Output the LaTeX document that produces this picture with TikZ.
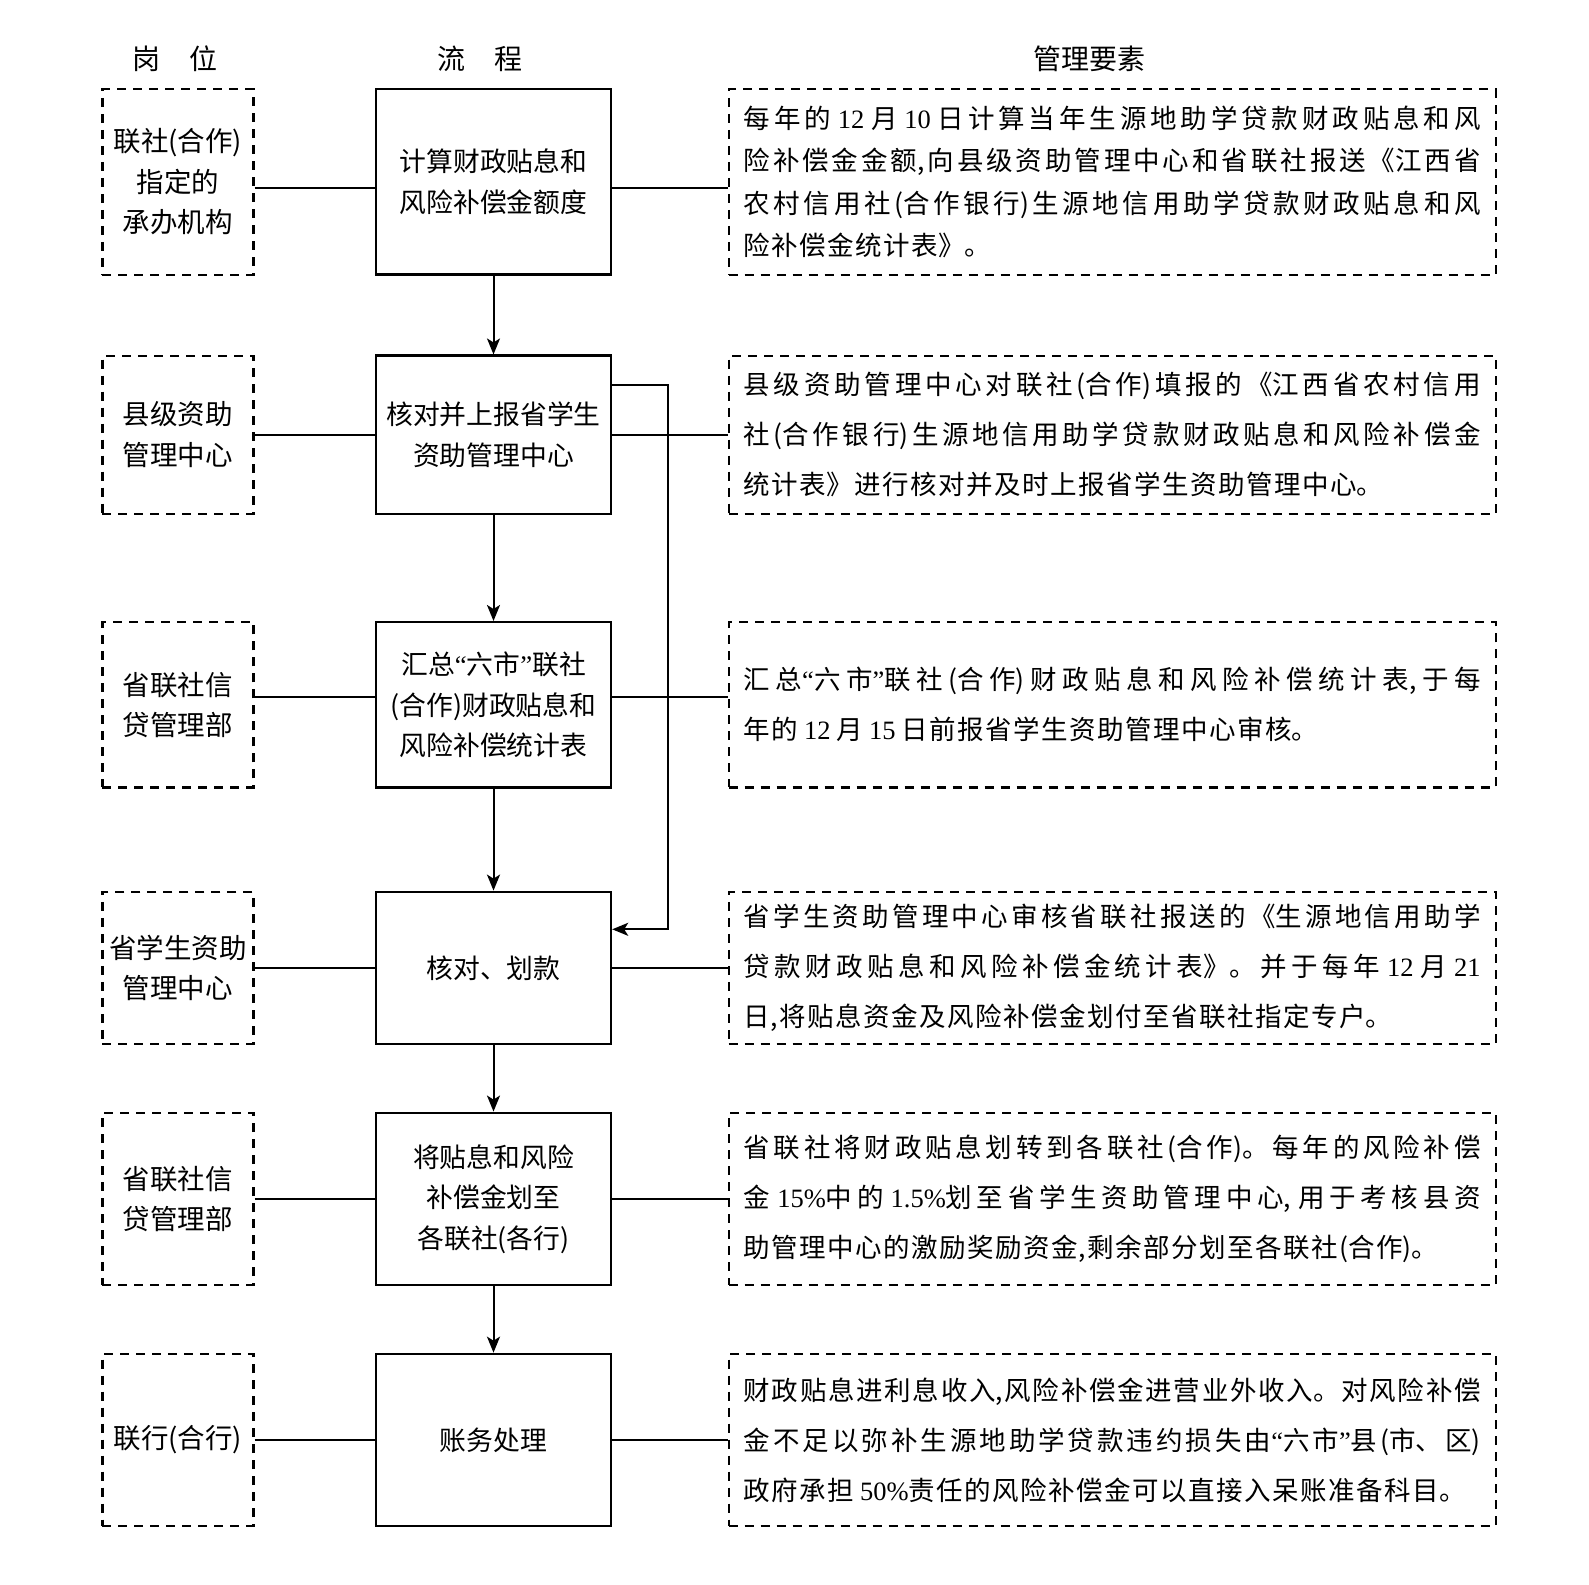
\documentclass[tikz,border=0pt]{standalone}
\usepackage{fontspec}
\setmainfont{Noto Sans CJK SC}
\newfontfamily\xifont{Liberation Serif}
\usetikzlibrary{arrows.meta}
\XeTeXlinebreaklocale "zh"
\XeTeXlinebreakskip=0pt plus 8pt
\setlength{\parindent}{0pt}
\newcommand{\yinhao}[1]{{\xifont “}#1{\xifont ”}}
\newcommand{\shu}[1]{{\xifont #1}}
\newcommand{\zijian}{\XeTeXlinebreakskip 1.5pt plus 8pt\relax}
\tikzset{
  kuang/.style={draw,line width=2.4pt,minimum width=235pt,inner sep=0pt,align=center,
    font=\fontsize{26.8pt}{40.5pt}\selectfont},
  xukuang/.style={draw,line width=2.2pt,dash pattern=on 9pt off 7pt,inner sep=0pt},
  gw/.style={xukuang,minimum width=151pt,align=center,font=\fontsize{27.5pt}{40.5pt}\selectfont},
  ys/.style={xukuang,text width=737pt,inner xsep=15pt,align=justify,
    font=\fontsize{26.5pt}{50pt}\selectfont\zijian},
  xian/.style={line width=2pt},
  jt/.style={line width=2pt,-{Stealth[length=16pt,width=13pt,inset=4pt]}},
  biaoti/.style={font=\fontsize{28pt}{30pt}\selectfont},
}

\begin{document}
\begin{tikzpicture}[x=1pt,y=-1pt]
  \useasboundingbox (0,0) rectangle (1589,1584);
  % titles
  \node[biaoti] (t1) at (175.3,58.8) {岗\hspace{29pt}位};
  \node[biaoti] (t2) at (480,58.8) {流\hspace{30pt}程};
  \node[biaoti] (t3) at (1089.4,58.8) {管理要素};
  % posts
  \node[gw,minimum height=185.4pt] (g1) at (177.9,181.9) {联社(合作)\\指定的\\承办机构};
  \node[gw,minimum height=158.1pt] (g2) at (177.9,434.7) {县级资助\\管理中心};
  \node[gw,minimum height=165.2pt] (g3) at (177.9,704.8) {省联社信\\贷管理部};
  \node[gw,minimum height=152pt] (g4) at (177.9,967.8) {省学生资助\\管理中心};
  \node[gw,minimum height=172.3pt] (g5) at (177.9,1198.9) {省联社信\\贷管理部};
  \node[gw,minimum height=172.3pt] (g6) at (177.9,1440) {联行(合行)};
  % flow
  \node[kuang,minimum height=185.4pt] (l1) at (493.5,181.9) {计算财政贴息和\\风险补偿金额度};
  \node[kuang,minimum height=158.1pt] (l2) at (493.5,434.7) {核对并上报省学生\\资助管理中心};
  \node[kuang,minimum height=165.2pt] (l3) at (493.5,704.8) {汇总\yinhao{六市}联社\\(合作)财政贴息和\\风险补偿统计表};
  \node[kuang,minimum height=152pt] (l4) at (493.5,967.8) {核对、划款};
  \node[kuang,minimum height=172.3pt] (l5) at (493.5,1198.9) {将贴息和风险\\补偿金划至\\各联社(各行)};
  \node[kuang,minimum height=172.3pt] (l6) at (493.5,1440) {账务处理};
  % elements
  \node[ys,minimum height=185.4pt,font=\fontsize{26.5pt}{42.6pt}\selectfont\zijian] (y1) at (1112.2,181.9)
    {每年的 \shu{12} 月 \shu{10} 日计算当年生源地助学贷款财政贴息和风\linebreak
     险补偿金金额,向县级资助管理中心和省联社报送《江西省\linebreak
     农村信用社(合作银行)生源地信用助学贷款财政贴息和风\linebreak
     险补偿金统计表》。};
  \node[ys,minimum height=158.1pt] (y2) at (1112.2,434.7)
    {县级资助管理中心对联社(合作)填报的《江西省农村信用\linebreak
     社(合作银行)生源地信用助学贷款财政贴息和风险补偿金\linebreak
     统计表》进行核对并及时上报省学生资助管理中心。};
  \node[ys,minimum height=165.2pt] (y3) at (1112.2,704.8)
    {汇总\yinhao{六市}联社(合作)财政贴息和风险补偿统计表,于每\linebreak
     年的 \shu{12} 月 \shu{15} 日前报省学生资助管理中心审核。};
  \node[ys,minimum height=152pt] (y4) at (1112.2,967.8)
    {省学生资助管理中心审核省联社报送的《生源地信用助学\linebreak
     贷款财政贴息和风险补偿金统计表》。并于每年 \shu{12} 月 \shu{21}\linebreak
     日,将贴息资金及风险补偿金划付至省联社指定专户。};
  \node[ys,minimum height=172.3pt] (y5) at (1112.2,1198.9)
    {省联社将财政贴息划转到各联社(合作)。每年的风险补偿\linebreak
     金 \shu{15\%}中的 \shu{1.5\%}划至省学生资助管理中心, 用于考核县资\linebreak
     助管理中心的激励奖励资金,剩余部分划至各联社(合作)。};
  \node[ys,minimum height=172.3pt] (y6) at (1112.2,1440)
    {财政贴息进利息收入,风险补偿金进营业外收入。对风险补偿\linebreak
     金不足以弥补生源地助学贷款违约损失由\yinhao{六市}县(市、区)\linebreak
     政府承担 \shu{50\%}责任的风险补偿金可以直接入呆账准备科目。};
  % links
  \foreach \i/\d in {1/-5.6,2/0,3/7.6,4/0,5/0,6/0}
    \draw[xian] ([yshift=\d pt]g\i.east) -- ([yshift=\d pt]l\i.west)
                ([yshift=\d pt]l\i.east) -- ([yshift=\d pt]y\i.west);
  \foreach \i/\j in {1/2,2/3,3/4,4/5,5/6}
    \draw[jt] (l\i) -- (l\j);
  % feedback
  \coordinate (fa) at (667.8,384.6);
  \coordinate (fb) at (667.8,929.3);
  \draw[jt] (l2.east |- fa) -- (fa) -- (fb) -- (l4.east |- fb);
\end{tikzpicture}
\end{document}
